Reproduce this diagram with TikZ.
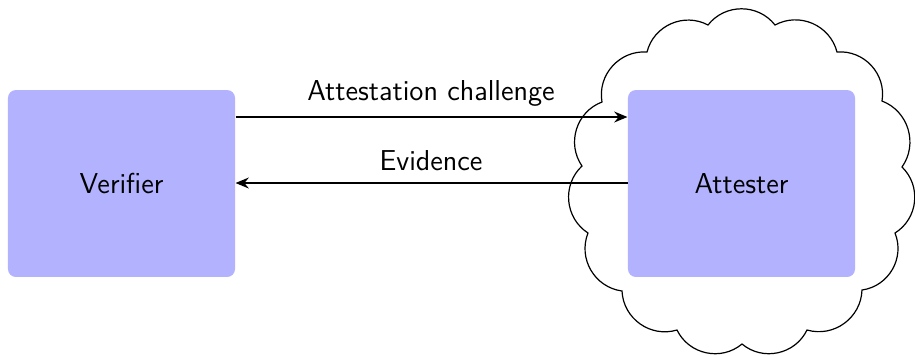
\documentclass[tikz,border=0pt]{standalone}
\usetikzlibrary{arrows.meta}
\begin{document}
\begin{tikzpicture}[x=0.41667pt,y=-0.41667pt,font=\sffamily\large,
  boxnode/.style={fill=blue!30,rounded corners=3.3pt,minimum width=94.6pt,minimum height=77.9pt,inner sep=0pt},
  msg/.style={line width=1.1pt,-{Stealth[length=5.5pt,width=4.5pt]}},
  lbl/.style={inner sep=0pt},
  puff/.style={bend right=52,looseness=1.05}]
\useasboundingbox (0,0) rectangle (915,355);
% cloud cusps
\coordinate (c1) at (742,344);
\coordinate (c2) at (807,330);
\coordinate (c3) at (862,290);
\coordinate (c4) at (895,233);
\coordinate (c5) at (902,167);
\coordinate (c6) at (882,101);
\coordinate (c7) at (837,52);
\coordinate (c8) at (775,25);
\coordinate (c9) at (708,25);
\coordinate (c10) at (647,52);
\coordinate (c11) at (602,102);
\coordinate (c12) at (582,166);
\coordinate (c13) at (588,233);
\coordinate (c14) at (622,291);
\coordinate (c15) at (677,330);
\draw[line width=0.5pt,line join=miter] (c1) to[puff] (c2) to[puff] (c3) to[puff] (c4) to[puff] (c5)
  to[puff] (c6) to[puff] (c7) to[puff] (c8) to[puff] (c9) to[puff] (c10) to[puff] (c11)
  to[puff] (c12) to[puff] (c13) to[puff] (c14) to[puff] (c15) to[puff] (c1) -- cycle;
\node[boxnode] (ver) at (121.5,183.5) {Verifier};
\node[boxnode] (att) at (741.5,183.5) {Attester};
\coordinate (a1s) at (235,117); \coordinate (a1e) at (628,117);
\coordinate (a2s) at (628,183); \coordinate (a2e) at (235,183);
\draw[msg] (ver.east |- a1s) -- (att.west |- a1e);
\draw[msg] (att.west |- a2s) -- (ver.east |- a2e);
\node[lbl] (l1) at (431,93) {Attestation challenge};
\node[lbl] (l2) at (431,161) {Evidence};
\end{tikzpicture}
\end{document}
